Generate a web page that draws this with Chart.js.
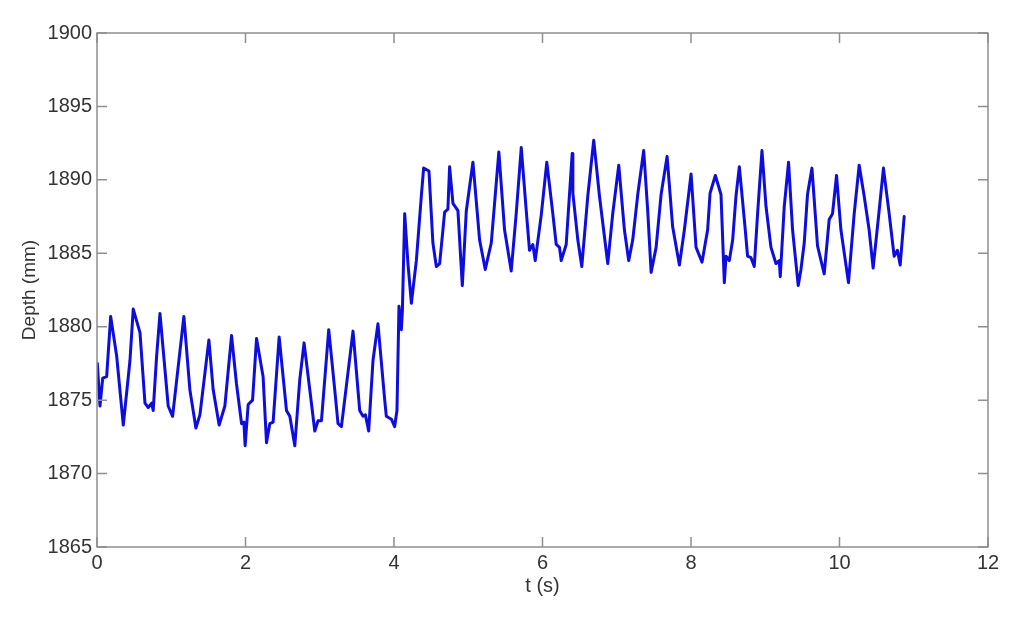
<!DOCTYPE html>
<html>
<head>
<meta charset="utf-8">
<script src="https://cdn.jsdelivr.net/npm/chart.js@4/dist/chart.umd.min.js"></script>
<style>
  html, body { margin: 0; padding: 0; background: #fff; }
  #wrap { width: 1024px; height: 619px; }
</style>
</head>
<body>
<div id="wrap"><canvas id="c" width="1024" height="619"></canvas></div>
<script>
const tVals = [
  0.004,0.040,0.077,0.130,0.184,0.265,0.354,0.444,0.488,0.579,0.646,0.690,0.736,0.757,0.803,0.848,0.959,1.018,1.094,1.170,
  1.251,1.332,1.386,1.507,1.565,1.645,1.722,1.812,1.879,1.947,1.978,1.995,2.036,2.095,2.149,2.237,2.283,2.327,2.372,2.453,
  2.552,2.597,2.664,2.731,2.789,2.866,2.933,2.977,3.023,3.121,3.202,3.246,3.292,3.448,3.538,3.583,3.615,3.659,3.717,3.784,
  3.875,3.897,3.965,4.009,4.040,4.067,4.099,4.113,4.144,4.188,4.234,4.301,4.368,4.399,4.471,4.524,4.570,4.615,4.682,4.726,
  4.749,4.794,4.861,4.920,4.974,5.063,5.153,5.229,5.310,5.412,5.489,5.579,5.646,5.714,5.781,5.825,5.870,5.902,5.983,6.058,
  6.139,6.185,6.229,6.252,6.319,6.400,6.409,6.476,6.529,6.610,6.690,6.767,6.879,6.946,7.027,7.103,7.161,7.215,7.283,7.363,
  7.417,7.463,7.530,7.597,7.678,7.753,7.844,7.911,8.001,8.068,8.149,8.224,8.257,8.328,8.404,8.449,8.472,8.516,8.561,8.606,
  8.651,8.731,8.762,8.808,8.852,8.897,8.956,9.010,9.077,9.144,9.189,9.202,9.256,9.314,9.368,9.444,9.481,9.525,9.569,9.629,
  9.704,9.794,9.861,9.906,9.960,10.019,10.121,10.198,10.265,10.332,10.399,10.453,10.534,10.592,10.669,10.736,10.780,10.817,10.871
];
const depthVals = [
  1877.5,1874.6,1876.5,1876.6,1880.7,1878.0,1873.3,1877.7,1881.2,1879.6,1874.8,1874.5,1874.8,1874.3,1878.0,1880.9,1874.6,1873.9,1877.3,1880.7,
  1875.7,1873.1,1874.0,1879.1,1875.7,1873.3,1874.6,1879.4,1876.1,1873.4,1873.5,1871.9,1874.7,1875.0,1879.2,1876.6,1872.1,1873.4,1873.5,1879.3,
  1874.3,1873.9,1871.9,1876.4,1878.9,1875.7,1872.9,1873.6,1873.6,1879.8,1875.7,1873.4,1873.2,1879.7,1874.3,1873.9,1874.0,1872.9,1877.7,1880.2,
  1875.0,1873.9,1873.7,1873.2,1874.3,1881.4,1879.8,1881.1,1887.7,1884.3,1881.6,1884.5,1888.9,1890.8,1890.6,1885.7,1884.1,1884.3,1887.8,1888.0,
  1890.9,1888.4,1887.9,1882.8,1887.9,1891.2,1885.9,1883.9,1885.7,1891.9,1886.6,1883.8,1887.7,1892.2,1887.9,1885.2,1885.6,1884.5,1887.6,1891.2,
  1887.7,1885.6,1885.4,1884.5,1885.6,1891.8,1889.1,1885.9,1884.1,1888.9,1892.7,1888.9,1884.3,1887.7,1891.0,1886.6,1884.5,1885.9,1889.0,1892.0,
  1887.9,1883.7,1885.4,1889.0,1891.6,1886.8,1884.2,1886.6,1890.4,1885.4,1884.4,1886.6,1889.1,1890.3,1889.0,1883.0,1884.8,1884.5,1885.9,1888.9,
  1890.9,1886.6,1884.8,1884.7,1884.1,1887.7,1892.0,1888.2,1885.4,1884.3,1884.5,1883.4,1888.2,1891.2,1886.6,1882.8,1883.9,1885.7,1889.0,1890.8,
  1885.5,1883.6,1887.3,1887.7,1890.3,1886.6,1883.0,1887.7,1891.0,1888.9,1886.6,1884.0,1887.9,1890.8,1887.7,1884.8,1885.2,1884.2,1887.5
];
const xTickLabels = ['0','2','4','6','8','10','12'];
const yTickLabels = ['1865','1870','1875','1880','1885','1890','1895','1900'];

const axisColor = '#8f8f8f';
const textColor = '#333333';

const inwardTicks = {
  id: 'inwardTicks',
  afterDatasetsDraw(chart) {
    const {ctx, chartArea: a, scales: {x, y}} = chart;
    const len = 10;
    ctx.save();
    ctx.strokeStyle = axisColor;
    ctx.lineWidth = 1.5;
    ctx.beginPath();
    x.ticks.forEach(t => {
      const px = x.getPixelForValue(t.value);
      ctx.moveTo(px, a.bottom); ctx.lineTo(px, a.bottom - len);
      ctx.moveTo(px, a.top); ctx.lineTo(px, a.top + len);
    });
    y.ticks.forEach(t => {
      const py = y.getPixelForValue(t.value);
      ctx.moveTo(a.left, py); ctx.lineTo(a.left + len, py);
      ctx.moveTo(a.right, py); ctx.lineTo(a.right - len, py);
    });
    ctx.stroke();
    ctx.beginPath();
    ctx.rect(a.left, a.top, a.right - a.left, a.bottom - a.top);
    ctx.stroke();
    ctx.restore();
  }
};

new Chart(document.getElementById('c'), {
  type: 'line',
  data: {
    datasets: [{
      data: tVals.map((t, i) => ({x: t, y: depthVals[i]})),
      borderColor: '#0d0ddf',
      borderWidth: 3,
      borderJoinStyle: 'round',
      borderCapStyle: 'round',
      pointRadius: 0,
      tension: 0,
      fill: false
    }]
  },
  options: {
    responsive: false,
    animation: false,
    devicePixelRatio: 1,
    layout: { padding: { left: 0, right: 36, top: 33, bottom: 0 } },
    plugins: { legend: { display: false }, tooltip: { enabled: false } },
    scales: {
      x: {
        type: 'linear', min: 0, max: 12,
        afterFit(s) { s.height = 72; },
        grid: { display: false, drawTicks: false },
        border: { display: false },
        ticks: {
          stepSize: 2, padding: 4, color: textColor, maxRotation: 0,
          font: { family: 'Liberation Sans', size: 20 },
          callback: (v) => xTickLabels[Math.round(v / 2)]
        },
        title: {
          display: true, text: 't (s)', color: textColor,
          font: { family: 'Liberation Sans', size: 20 },
          padding: { top: 0, bottom: 21 }
        }
      },
      y: {
        type: 'linear', min: 1865, max: 1900,
        afterFit(s) { s.width = 97; },
        grid: { display: false, drawTicks: false },
        border: { display: false },
        ticks: {
          stepSize: 5, padding: 5, color: textColor,
          font: { family: 'Liberation Sans', size: 20 },
          callback: (v) => yTickLabels[Math.round((v - 1865) / 5)]
        },
        title: {
          display: true, text: 'Depth (mm)', color: textColor,
          font: { family: 'Liberation Sans', size: 19 },
          padding: { top: 18, bottom: 0 }
        }
      }
    }
  },
  plugins: [inwardTicks]
});
</script>
</body>
</html>
